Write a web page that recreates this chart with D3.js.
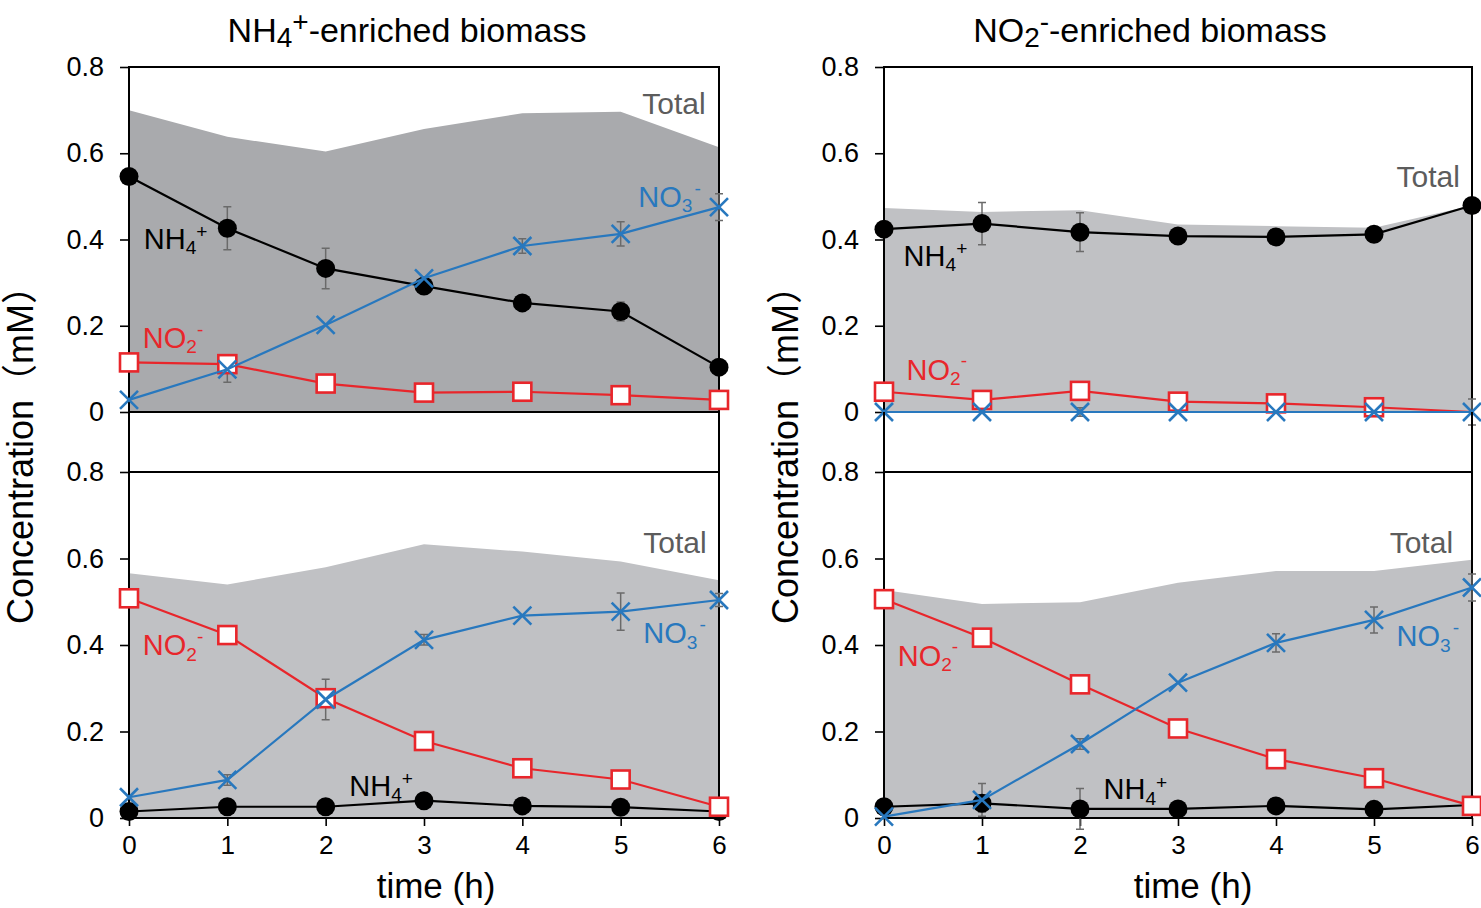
<!DOCTYPE html>
<html>
<head>
<meta charset="utf-8">
<script src="https://cdn.jsdelivr.net/npm/d3@7"></script>
<style>
  body { margin: 0; background: #fff; }
  svg { display: block; font-family: "Liberation Sans", Arial, Helvetica, "Noto Sans CJK JP", sans-serif; }
</style>
</head>
<body>
<svg id="chart" width="1481" height="908"></svg>
<script>
'use strict';

// time points and axis ticks
var hours = [0, 1, 2, 3, 4, 5, 6];
var yTicks = [0, 0.2, 0.4, 0.6, 0.8];

// NH4+-enriched biomass, upper panel (NH4+ fed)
var aTotal = [0.700, 0.638, 0.604, 0.656, 0.693, 0.696, 0.614];
var aNH4 = [0.546, 0.426, 0.333, 0.292, 0.253, 0.233, 0.104];
var aNH4Err = [0, 0.050, 0.047, 0.015, 0.013, 0.022, 0];
var aNO2 = [0.115, 0.111, 0.066, 0.045, 0.047, 0.039, 0.028];
var aNO3 = [0.028, 0.099, 0.202, 0.310, 0.385, 0.413, 0.475];
var aNO3Err = [0, 0.030, 0, 0, 0.017, 0.028, 0.031];

// NO2--enriched biomass, upper panel (NH4+ fed)
var bTotal = [0.473, 0.464, 0.468, 0.435, 0.431, 0.427, 0.479];
var bNH4 = [0.424, 0.437, 0.417, 0.408, 0.406, 0.412, 0.479];
var bNH4Err = [0, 0.049, 0.045, 0.012, 0.012, 0.012, 0];
var bNO2 = [0.047, 0.028, 0.049, 0.024, 0.020, 0.011, 0];
var bNO3 = [0, 0, 0, 0, 0, 0, 0];
var bNO3Err = [0, 0, 0.010, 0, 0, 0, 0.030];

// NH4+-enriched biomass, lower panel (NO2- fed)
var cTotal = [0.566, 0.540, 0.580, 0.633, 0.616, 0.593, 0.550];
var cNH4 = [0.015, 0.026, 0.026, 0.040, 0.028, 0.025, 0.015];
var cNO2 = [0.508, 0.423, 0.277, 0.178, 0.115, 0.089, 0.026];
var cNO3 = [0.048, 0.088, 0.274, 0.412, 0.468, 0.477, 0.504];
var cNO3Err = [0, 0.012, 0.047, 0.012, 0, 0.043, 0.015];

// NO2--enriched biomass, lower panel (NO2- fed)
var dTotal = [0.527, 0.495, 0.499, 0.544, 0.571, 0.571, 0.597];
var dNH4 = [0.026, 0.034, 0.021, 0.021, 0.028, 0.020, 0.030];
var dNH4Err = [0, 0.020, 0.047, 0.010, 0.015, 0.010, 0];
var dNO2 = [0.506, 0.417, 0.309, 0.207, 0.136, 0.092, 0.028];
var dNO3 = [0.003, 0.042, 0.171, 0.313, 0.405, 0.458, 0.533];
var dNO3Err = [0, 0.038, 0.012, 0, 0.021, 0.030, 0.031];

var colors = { nh4: '#000000', no2: '#e8262b', no3: '#2878be', total: '#5c5c5c' };

var cols = [ { x0: 129, x1: 719 }, { x0: 884, x1: 1472 } ];
var rows = [ { y0: 412, y1: 67 }, { y0: 818, y1: 472 } ];

var panels = [
	{ col: 0, row: 0, fill: '#a9aaad', total: aTotal,
	  nh4: aNH4, nh4Err: aNH4Err, no2: aNO2, no3: aNO3, no3Err: aNO3Err,
	  labels: [ ['Total', 5.22, 0.717], ['NO3', 5.18, 0.499], ['NH4', 0.15, 0.403], ['NO2', 0.14, 0.172] ] },
	{ col: 1, row: 0, fill: '#c0c1c4', total: bTotal,
	  nh4: bNH4, nh4Err: bNH4Err, no2: bNO2, no3: bNO3, no3Err: bNO3Err, no2Hide: [6],
	  labels: [ ['Total', 5.23, 0.546], ['NH4', 0.20, 0.363], ['NO2', 0.23, 0.099] ] },
	{ col: 0, row: 1, fill: '#c0c1c4', total: cTotal,
	  nh4: cNH4, no2: cNO2, no3: cNO3, no3Err: cNO3Err,
	  labels: [ ['Total', 5.23, 0.638], ['NO2', 0.14, 0.400], ['NO3', 5.23, 0.428], ['NH4', 2.24, 0.076] ] },
	{ col: 1, row: 1, fill: '#c0c1c4', total: dTotal,
	  nh4: dNH4, nh4Err: dNH4Err, no2: dNO2, no3: dNO3, no3Err: dNO3Err,
	  labels: [ ['Total', 5.16, 0.638], ['NO2', 0.14, 0.375], ['NO3', 5.23, 0.421], ['NH4', 2.24, 0.067] ] }
];

var svg = d3.select('#chart');

// write a chemical formula into a text element with sub/superscripts
function formula(text, key, size) {
	var small = size * 0.66;
	if(key === 'NH4') {
		text.append('tspan').text('NH');
		text.append('tspan').attr('font-size', small).attr('dy', size * 0.18).text('4');
		text.append('tspan').attr('font-size', small).attr('dy', -size * 0.55).text('+');
	}
	else if(key === 'NO3') {
		text.append('tspan').text('NO');
		text.append('tspan').attr('font-size', small).attr('dy', size * 0.18).text('3');
		text.append('tspan').attr('font-size', small).attr('dy', -size * 0.6).attr('dx', 2).text('-');
	}
	else if(key === 'NO2') {
		text.append('tspan').text('NO');
		text.append('tspan').attr('font-size', small).attr('dy', size * 0.18).text('2');
		text.append('tspan').attr('font-size', small).attr('dy', -size * 0.62).text('-');
	}
	else {
		text.text(key);
	}
}

function errorBars(g, x, y, values, errs) {
	if(!errs) {
		return;
	}
	hours.forEach(function(t, i) {
		var e = errs[i];
		if(!e) {
			return;
		}
		var cx = x(t);
		var top = y(values[i] + e);
		var bot = y(values[i] - e);
		g.append('path')
			.attr('d', 'M' + cx + ',' + top + 'V' + bot +
				'M' + (cx - 4) + ',' + top + 'H' + (cx + 4) +
				'M' + (cx - 4) + ',' + bot + 'H' + (cx + 4))
			.attr('stroke', '#6a6a6a')
			.attr('stroke-width', 1.5)
			.attr('fill', 'none');
	});
}

panels.forEach(function(p) {
	var c = cols[p.col];
	var r = rows[p.row];
	var x = d3.scaleLinear().domain([0, 6]).range([c.x0, c.x1]);
	var y = d3.scaleLinear().domain([0, 0.8]).range([r.y0, r.y1]);
	var g = svg.append('g');

	// total area
	g.append('path')
		.datum(hours)
		.attr('fill', p.fill)
		.attr('d', d3.area()
			.x(function(t) { return x(t); })
			.y0(y(0))
			.y1(function(t, i) { return y(p.total[i]); }));

	// frame
	g.append('rect')
		.attr('x', c.x0)
		.attr('y', r.y1)
		.attr('width', c.x1 - c.x0)
		.attr('height', r.y0 - r.y1)
		.attr('fill', 'none')
		.attr('stroke', '#000')
		.attr('stroke-width', 2);

	// y axis
	var yAxis = g.append('g')
		.attr('transform', 'translate(' + c.x0 + ',0)')
		.call(d3.axisLeft(y)
			.tickValues(yTicks)
			.tickSize(9)
			.tickPadding(16)
			.tickFormat(function(d) { return d === 0 ? '0' : d.toFixed(1); }));
	yAxis.select('.domain').remove();
	yAxis.selectAll('line').attr('stroke', '#000').attr('stroke-width', 1.6);
	yAxis.selectAll('text')
		.attr('font-size', 27)
		.attr('font-family', null)
		.attr('fill', '#000');

	// x axis on bottom row
	if(p.row === 1) {
		var xAxis = g.append('g')
			.attr('transform', 'translate(0,' + r.y0 + ')')
			.call(d3.axisBottom(x)
				.tickValues(hours)
				.tickSize(8)
				.tickPadding(10)
				.tickFormat(d3.format('d')));
		xAxis.select('.domain').remove();
		xAxis.selectAll('line').attr('stroke', '#000').attr('stroke-width', 1.6);
		xAxis.selectAll('text')
			.attr('font-size', 26)
			.attr('font-family', null)
			.attr('fill', '#000');
	}

	// error bars
	errorBars(g, x, y, p.nh4, p.nh4Err);
	errorBars(g, x, y, p.no3, p.no3Err);

	var line = function(values) {
		return d3.line()
			.x(function(t) { return x(t); })
			.y(function(t, i) { return y(values[i]); })(hours);
	};

	// NH4+
	g.append('path').attr('d', line(p.nh4))
		.attr('fill', 'none').attr('stroke', colors.nh4).attr('stroke-width', 2.2);
	g.selectAll(null).data(hours).enter().append('circle')
		.attr('cx', function(t) { return x(t); })
		.attr('cy', function(t, i) { return y(p.nh4[i]); })
		.attr('r', 9.5)
		.attr('fill', colors.nh4);

	// NO2-
	g.append('path').attr('d', line(p.no2))
		.attr('fill', 'none').attr('stroke', colors.no2).attr('stroke-width', 2.2);
	var hide = p.no2Hide || [];
	g.selectAll(null).data(hours.filter(function(t) { return hide.indexOf(t) < 0; }))
		.enter().append('rect')
		.attr('x', function(t) { return x(t) - 9; })
		.attr('y', function(t) { return y(p.no2[t]) - 9; })
		.attr('width', 18)
		.attr('height', 18)
		.attr('fill', '#fff')
		.attr('stroke', colors.no2)
		.attr('stroke-width', 2.6);

	// NO3-
	g.append('path').attr('d', line(p.no3))
		.attr('fill', 'none').attr('stroke', colors.no3).attr('stroke-width', 2.2);
	g.selectAll(null).data(hours).enter().append('path')
		.attr('transform', function(t, i) {
			return 'translate(' + x(t) + ',' + y(p.no3[i]) + ')';
		})
		.attr('d', 'M-9,-9L9,9M-9,9L9,-9')
		.attr('stroke', colors.no3)
		.attr('stroke-width', 2.6)
		.attr('fill', 'none');

	// labels
	p.labels.forEach(function(l) {
		var key = l[0];
		var color = key === 'Total' ? colors.total :
			key === 'NH4' ? colors.nh4 :
			key === 'NO2' ? colors.no2 : colors.no3;
		var size = key === 'Total' ? 30 : 29;
		var t = g.append('text')
			.attr('x', x(l[1]))
			.attr('y', y(l[2]) + size * 0.36)
			.attr('font-size', size)
			.attr('fill', color);
		formula(t, key, size);
	});
});

// connect the two stacked panels of each column
cols.forEach(function(c) {
	[c.x0, c.x1].forEach(function(xx) {
		svg.append('line')
			.attr('x1', xx).attr('x2', xx)
			.attr('y1', rows[0].y0).attr('y2', rows[1].y1)
			.attr('stroke', '#000').attr('stroke-width', 2);
	});
});

// titles
var titles = [ { x: 407, ion: 'NH', sub: '4', sup: '+' }, { x: 1150, ion: 'NO', sub: '2', sup: '-' } ];
titles.forEach(function(d) {
	var t = svg.append('text')
		.attr('x', d.x)
		.attr('y', 42)
		.attr('text-anchor', 'middle')
		.attr('font-size', 34)
		.attr('fill', '#000');
	t.append('tspan').text(d.ion);
	t.append('tspan').attr('font-size', 28).attr('dy', 5).text(d.sub);
	t.append('tspan').attr('font-size', 28).attr('dy', -16).text(d.sup);
	t.append('tspan').attr('dy', 11).text('-enriched biomass');
});

// axis titles
[ { x: 436 }, { x: 1193 } ].forEach(function(d) {
	svg.append('text')
		.attr('x', d.x)
		.attr('y', 898)
		.attr('text-anchor', 'middle')
		.attr('font-size', 35)
		.attr('fill', '#000')
		.text('time (h)');
});

[ { x: 20 }, { x: 785 } ].forEach(function(d) {
	svg.append('text')
		.attr('transform', 'translate(' + d.x + ',446) rotate(-90)')
		.attr('text-anchor', 'middle')
		.attr('dy', '0.36em')
		.attr('font-size', 36)
		.attr('fill', '#000')
		.text('Concentration（mM）');
});
</script>
</body>
</html>
